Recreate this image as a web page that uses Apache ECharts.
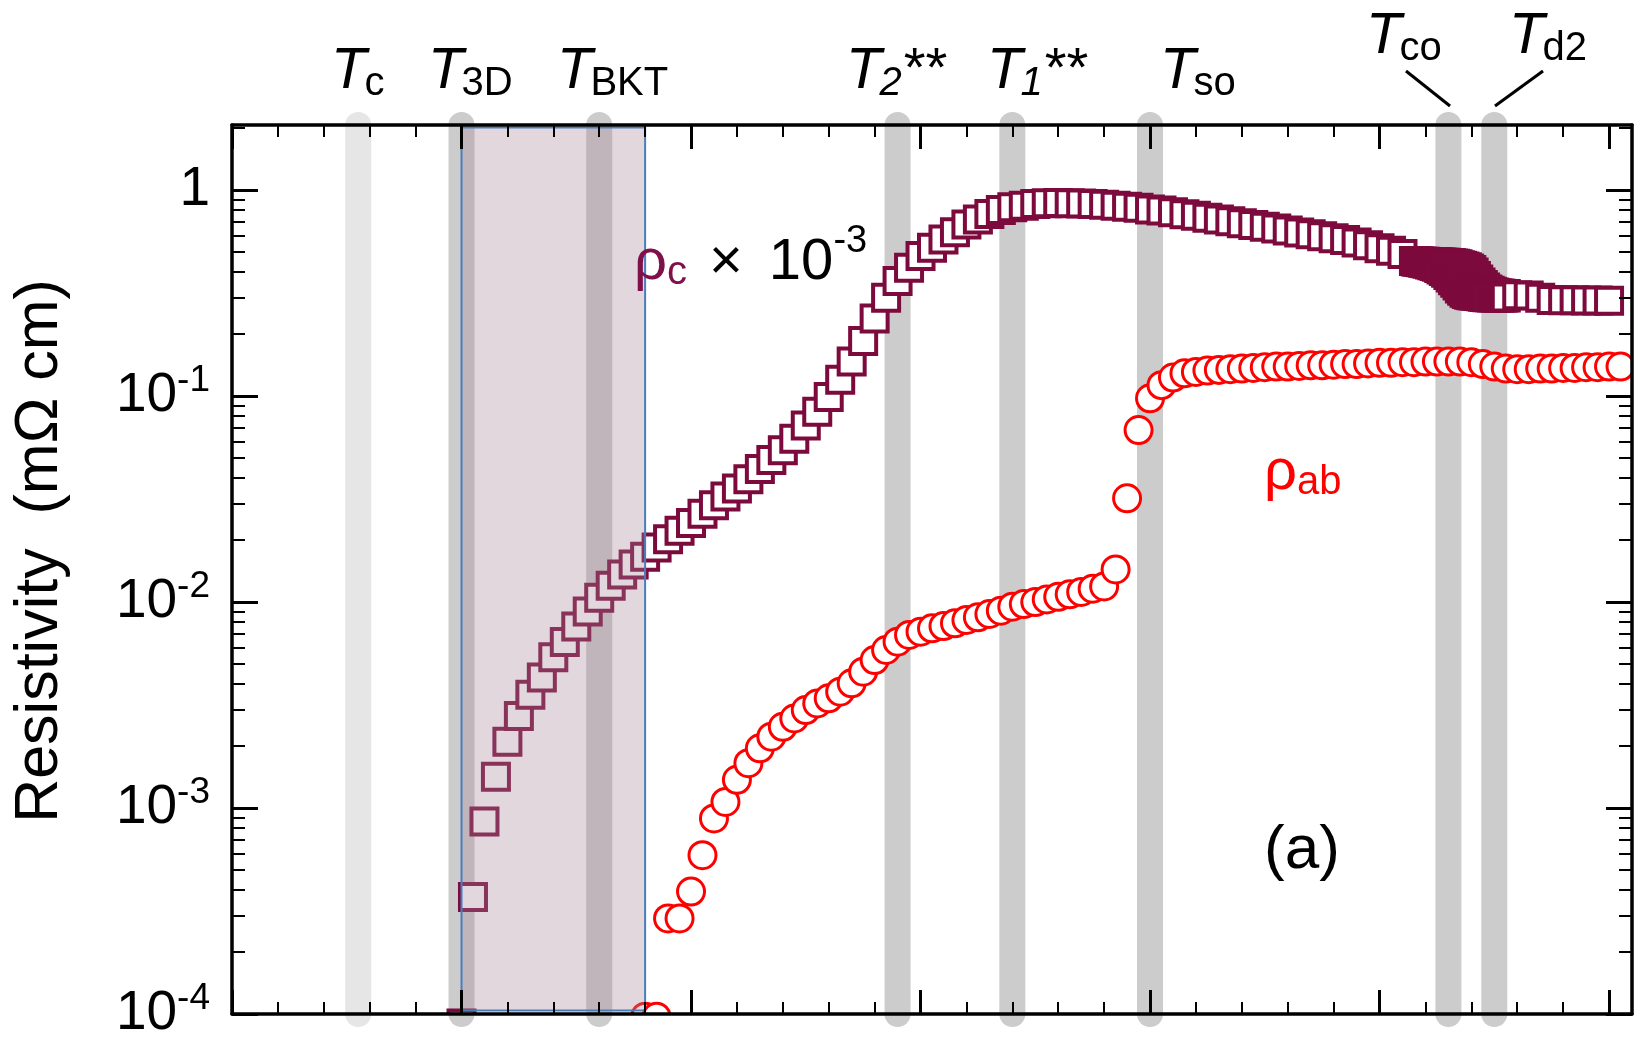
<!DOCTYPE html>
<html><head><meta charset="utf-8">
<script src="https://cdn.jsdelivr.net/npm/echarts@6/dist/echarts.min.js"></script>
<style>html,body{margin:0;padding:0;background:#fff}#c{width:1636px;height:1048px}</style>
</head><body><div id="c"></div>
<script>
const FONT = "'Liberation Sans', Arial, Helvetica, sans-serif";

// ---- axes ----
const xMin = 0, xMax = 61;
const xMajorTicks = [0, 10, 20, 30, 40, 50, 60];
const xMinorTicks = [2,4,6,8,12,14,16,18,22,24,26,28,32,34,36,38,42,44,46,48,52,54,56,58];
const yMin = 1e-4, yMax = 2.07;
const yMajorTicks = [1e-4, 1e-3, 1e-2, 1e-1, 1];
const yMinorTicks = [2e-4,3e-4,4e-4,5e-4,6e-4,7e-4,8e-4,9e-4,
  2e-3,3e-3,4e-3,5e-3,6e-3,7e-3,8e-3,9e-3,
  2e-2,3e-2,4e-2,5e-2,6e-2,7e-2,8e-2,9e-2,
  0.2,0.3,0.4,0.5,0.6,0.7,0.8,0.9,2];

// ---- rho_c x 1e-3 (squares) ----
const rhoC_T = [10.0,10.5,11.0,11.5,12.0,12.5,13.0,13.5,14.0,14.5,15.0,15.5,16.0,16.5,17.0,17.5,
  18.0,18.5,19.0,19.5,20.0,20.5,21.0,21.5,22.0,22.5,23.0,23.5,24.0,24.5,25.0,25.5,
  26.0,26.5,27.0,27.5,28.0,28.5,29.0,29.5,30.0,30.5,31.0,31.5,32.0,32.5,33.0,33.5,
  34.0,34.5,35.0,35.5,36.0,36.5,37.0,37.5,38.0,38.5,39.0,39.5,40.0,40.5,41.0,41.5,
  42.0,42.5,43.0,43.5,44.0,44.5,45.0,45.5,46.0,46.5,47.0,47.5,48.0,48.5,49.0,49.5,
  50.0,50.5,51.0];
const rhoC = [9e-5,3.7e-4,8.6e-4,1.42e-3,2.1e-3,2.8e-3,3.55e-3,4.3e-3,5.4e-3,6.4e-3,7.6e-3,9.0e-3,1.05e-2,1.2e-2,1.36e-2,1.52e-2,
  1.66e-2,1.84e-2,2.02e-2,2.22e-2,2.42e-2,2.68e-2,2.95e-2,3.25e-2,3.56e-2,3.95e-2,4.42e-2,4.9e-2,5.45e-2,6.2e-2,7.2e-2,8.4e-2,
  0.099,0.12,0.147,0.185,0.238,0.3,0.362,0.42,0.478,0.525,0.575,0.625,0.68,0.72,0.765,0.8,
  0.825,0.84,0.855,0.862,0.865,0.864,0.86,0.855,0.848,0.84,0.83,0.82,0.806,0.795,0.78,0.764,
  0.75,0.735,0.72,0.705,0.69,0.677,0.664,0.65,0.636,0.623,0.61,0.597,0.584,0.572,0.556,0.54,
  0.522,0.507,0.49];
// dense sweeps through Tco / Td2
const rhoC_sweepA_T = [51.5,51.6,51.7,51.8,51.9,52.0,52.1,52.2,52.3,52.4,52.5,52.6,52.7,52.8,52.9,53.0,53.1,53.2,53.3,53.4,
  53.5,53.6,53.7,53.8,53.9,54.0,54.1,54.2,54.3,54.4,54.5,54.6,54.7,54.8,54.9,55.0,55.1,55.2,55.3,55.4,55.5];
const rhoC_sweepA = [0.452,0.451,0.4505,0.4497,0.449,0.4485,0.448,0.4475,0.447,0.4465,0.446,0.4455,0.445,0.4443,0.4437,0.443,0.442,0.4405,0.439,0.436,
  0.432,0.429,0.426,0.422,0.4165,0.409,0.398,0.383,0.368,0.356,0.346,0.337,0.3295,0.325,0.321,0.318,0.316,0.315,0.314,0.313,0.3127];
const rhoC_sweepB_T = [51.5,51.6,51.7,51.8,51.9,52.0,52.1,52.2,52.3,52.4,52.5,52.6,52.7,52.8,52.9,53.0,53.1,53.2,53.3,53.4,
  53.5,53.6,53.7,53.8,53.9,54.0,54.1,54.2,54.3,54.4,54.5,54.6,54.7,54.8,54.9,55.0,55.1,55.2,55.3,55.4,55.5];
const rhoC_sweepB = [0.452,0.4505,0.449,0.4465,0.4437,0.4415,0.439,0.4357,0.432,0.428,0.4243,0.418,0.4119,0.405,0.397,0.387,0.376,0.365,0.355,0.344,
  0.3332,0.325,0.3175,0.313,0.31,0.309,0.308,0.307,0.306,0.305,0.3035,0.3027,0.302,0.3016,0.3013,0.3013,0.3013,0.3013,0.3013,0.3013,0.3013];
const rhoC_tail_T = [56.0,56.5,57.0,57.5,58.0,58.5,59.0,59.5,60.0];
const rhoC_tail = [0.309,0.308,0.3,0.293,0.292,0.292,0.291,0.291,0.29];

// ---- rho_ab (circles) ----
const rhoAb_T = [18.0,18.5,19.0,19.5,20.0,20.5,21.0,21.5,22.0,22.5,23.0,23.5,24.0,24.5,25.0,25.5,
  26.0,26.5,27.0,27.5,28.0,28.5,29.0,29.5,30.0,30.5,31.0,31.5,32.0,32.5,33.0,33.5,
  34.0,34.5,35.0,35.5,36.0,36.5,37.0,37.5,38.0,38.5,39.0,39.5,40.0,40.5,41.0,41.5,
  42.0,42.5,43.0,43.5,44.0,44.5,45.0,45.5,46.0,46.5,47.0,47.5,48.0,48.5,49.0,49.5,
  50.0,50.5,51.0,51.5,52.0,52.5,53.0,53.5,54.0,54.5,55.0,55.5,56.0,56.5,57.0,57.5,
  58.0,58.5,59.0,59.5,60.0,60.5];
const rhoAb = [0.97e-4,0.97e-4,2.91e-4,2.91e-4,3.93e-4,5.9e-4,8.9e-4,1.07e-3,1.37e-3,1.65e-3,1.95e-3,2.22e-3,2.48e-3,2.72e-3,2.99e-3,3.22e-3,
  3.41e-3,3.67e-3,4.03e-3,4.59e-3,5.23e-3,5.85e-3,6.42e-3,6.92e-3,7.18e-3,7.45e-3,7.64e-3,7.88e-3,8.18e-3,8.43e-3,8.75e-3,9.08e-3,
  9.49e-3,9.78e-3,1.0e-2,1.03e-2,1.06e-2,1.09e-2,1.12e-2,1.16e-2,1.19e-2,1.44e-2,3.19e-2,6.84e-2,9.75e-2,0.113,0.123,0.129,
  0.131,0.133,0.134,0.135,0.136,0.137,0.138,0.139,0.139,0.14,0.141,0.141,0.142,0.143,0.143,0.144,
  0.145,0.145,0.146,0.146,0.147,0.147,0.147,0.147,0.146,0.143,0.139,0.136,0.135,0.135,0.136,0.136,
  0.137,0.137,0.138,0.138,0.139,0.139];

// ---- characteristic temperatures (bands) and shaded range ----
const bandT = [5.5, 10, 16, 29, 34, 40, 53, 55];
const bandColors = ['#e6e6e6','#cccccc','#cccccc','#cccccc','#cccccc','#cccccc','#cccccc','#cccccc'];
const shadedRange = [[10, 18]];

function zip(a, b) { return a.map((v, i) => [v, b[i]]); }
const squareData = zip(rhoC_T, rhoC).concat(zip(rhoC_sweepA_T, rhoC_sweepA), zip(rhoC_sweepB_T, rhoC_sweepB), zip(rhoC_tail_T, rhoC_tail));
const circleData = zip(rhoAb_T, rhoAb);

const chart = echarts.init(document.getElementById('c'), null, {renderer: 'canvas'});

function xAx(pos, ticks, len, showLine, w) {
  return {type: 'value', position: pos, min: xMin, max: xMax, interval: 10, z: 4,
    axisLine: {show: showLine, onZero: false, lineStyle: {color: '#000', width: 3.5}},
    axisTick: {show: true, inside: true, length: len, customValues: ticks, lineStyle: {color: '#000', width: w}},
    axisLabel: {show: false}, splitLine: {show: false}};
}
function yAx(pos, ticks, len, showLine, w, labels) {
  return {type: 'log', logBase: 10, position: pos, min: yMin, max: yMax, z: 4,
    axisLine: {show: showLine, onZero: false, lineStyle: {color: '#000', width: 3.5}},
    axisTick: {show: true, inside: true, length: len, customValues: ticks, lineStyle: {color: '#000', width: w}},
    axisLabel: labels ? {show: true, customValues: yMajorTicks, margin: 22,
      formatter: v => { const e = Math.round(Math.log10(v)); return e === 0 ? '{b|1}' : '{b|10}{s|' + e + '}'; },
      rich: {b: {fontFamily: FONT, fontSize: 55, lineHeight: 68, color: '#000', verticalAlign: 'middle'},
             s: {fontFamily: FONT, fontSize: 37, color: '#000', verticalAlign: 'top'}}} : {show: false},
    splitLine: {show: false}};
}

// text helper (pieces laid along a baseline)
const mctx = document.createElement('canvas').getContext('2d');
function fstr(p) { return (p.italic ? 'italic ' : '') + p.size + 'px ' + FONT; }
function run(x, base, pieces) {
  const out = []; let cx = x;
  pieces.forEach(p => {
    const f = fstr(p);
    out.push({type: 'text', x: cx, y: base + (p.dy || 0) - 0.3465 * p.size, z: 100,
      style: {text: p.text, font: f, fill: p.color || '#000', align: 'left', verticalAlign: 'middle'}});
    mctx.font = f;
    cx += mctx.measureText(p.text).width + (p.gap || 0);
  });
  return out;
}
const TS = 58, SS = 40;
function tLab(x, base, sub, subItalic, stars) {
  const arr = [{text: 'T', size: TS, italic: true, gap: -2}, {text: sub, size: SS, italic: subItalic, dy: 6, gap: stars ? 2 : 0}];
  if (stars) arr.push({text: '**', size: 56, dy: -2});
  return run(x, base, arr);
}

let graphics = [];
graphics = graphics.concat(
  tLab(331, 92, 'c'), tLab(428, 92, '3D'), tLab(557, 92, 'BKT'),
  tLab(846, 92, '2', true, true), tLab(987, 92, '1', true, true), tLab(1160, 92, 'so'),
  tLab(1366, 57, 'co'), tLab(1509, 57, 'd2'),
  run(634, 283, [{text: 'ρ', size: 58, color: '#80104a'}, {text: 'c', size: 40, color: '#80104a', dy: 4, gap: 22},
                 {text: '×', size: 58, gap: 26}, {text: '10', size: 58}, {text: '-3', size: 38, dy: -28}]),
  run(1264, 493, [{text: 'ρ', size: 58, color: '#ff0000'}, {text: 'ab', size: 40, color: '#ff0000', dy: 4}]),
  run(1264, 872, [{text: '(a)', size: 62}])
);
graphics.push({type: 'text', x: 40, y: 551, rotation: Math.PI / 2, z: 100,
  style: {text: 'Resistivity  (mΩ cm)', font: '61px ' + FONT, fill: '#000', align: 'center', verticalAlign: 'middle'}});
graphics.push({type: 'line', z: 100, shape: {x1: 1406, y1: 71, x2: 1450, y2: 106}, style: {stroke: '#000', lineWidth: 3}});
graphics.push({type: 'line', z: 100, shape: {x1: 1543, y1: 71, x2: 1495, y2: 106}, style: {stroke: '#000', lineWidth: 3}});

const option = {
  animation: false,
  backgroundColor: '#fff',
  grid: {left: 232, right: 4, top: 125, bottom: 34, containLabel: false},
  xAxis: [xAx('bottom', xMajorTicks, 24, true, 3), xAx('top', xMajorTicks, 24, true, 3),
          xAx('bottom', xMinorTicks, 12, false, 2), xAx('top', xMinorTicks, 12, false, 2)],
  yAxis: [yAx('left', yMajorTicks, 26, true, 3, true), yAx('right', yMajorTicks, 26, true, 3, false),
          yAx('left', yMinorTicks, 13, false, 2, false), yAx('right', yMinorTicks, 13, false, 2, false)],
  graphic: graphics,
  series: [
    {type: 'custom', name: 'bands', z: 1, silent: true, clip: false,
      data: bandT.map((t, i) => [t, i]), encode: {x: 0},
      renderItem: (params, api) => {
        const t = api.value(0), i = api.value(1);
        const p0 = api.coord([t, yMax]), p1 = api.coord([t, yMin]);
        return {type: 'line', shape: {x1: p0[0], y1: p0[1], x2: p1[0], y2: p1[1]},
          style: {stroke: bandColors[i], lineWidth: 26, lineCap: 'round'}};
      }},
    {type: 'custom', name: 'rho_c', z: 2, silent: true, clip: true,
      data: squareData, encode: {x: 0, y: 1},
      renderItem: (params, api) => {
        const p = api.coord([api.value(0), api.value(1)]);
        return {type: 'rect', shape: {x: p[0] - 13, y: p[1] - 13, width: 26, height: 26},
          style: {fill: '#fff', stroke: '#7d0a3c', lineWidth: 4}};
      }},
    {type: 'custom', name: 'rho_ab', z: 2, silent: true, clip: true,
      data: circleData, encode: {x: 0, y: 1},
      renderItem: (params, api) => {
        const p = api.coord([api.value(0), api.value(1)]);
        return {type: 'circle', shape: {cx: p[0], cy: p[1], r: 13.5},
          style: {fill: '#fff', stroke: '#ff0000', lineWidth: 3}};
      }},
    {type: 'custom', name: 'range', z: 3, silent: true, clip: false,
      data: shadedRange, encode: {x: [0, 1]},
      renderItem: (params, api) => {
        const a = api.coord([api.value(0), yMax]), b = api.coord([api.value(1), yMin]);
        return {type: 'rect', shape: {x: a[0], y: a[1] + 2.5, width: b[0] - a[0], height: b[1] - a[1] - 6},
          style: {fill: 'rgba(165,135,153,0.33)', stroke: '#4a7ebb', lineWidth: 2}};
      }}
  ]
};
chart.setOption(option);
</script></body></html>
